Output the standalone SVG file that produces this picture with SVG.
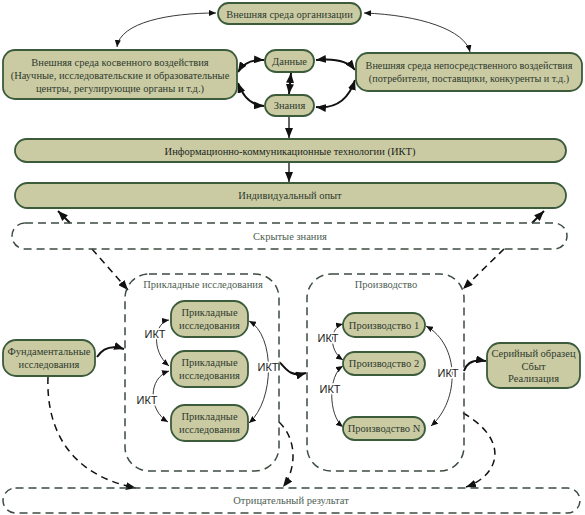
<svg xmlns="http://www.w3.org/2000/svg" width="585" height="515" viewBox="0 0 585 515">
<style>
.n{fill:#cbcba3;stroke:#3b5b3b;stroke-width:1.8}
.d{fill:none;stroke:#3c4c40;stroke-width:1.5;stroke-dasharray:8 5}
.t{font-family:'Liberation Serif','Times New Roman',serif;font-size:10.5px;fill:#2e3a2e;text-anchor:middle}
.tl{font-family:'Liberation Serif','Times New Roman',serif;font-size:10.5px;fill:#4e5e52;text-anchor:middle}
.k{font-family:'Liberation Sans',Arial,sans-serif;font-size:11px;fill:#222;text-anchor:middle;stroke:#fff;stroke-width:3;paint-order:stroke}
.c1{fill:none;stroke:#222;stroke-width:0.9;marker-start:url(#a);marker-end:url(#a)}
.c2{fill:none;stroke:#111;stroke-width:2;marker-start:url(#b);marker-end:url(#b)}
.c3{fill:none;stroke:#111;stroke-width:2;marker-end:url(#b)}
.c4{fill:none;stroke:#111;stroke-width:1.5;stroke-dasharray:7 5;marker-end:url(#b)}
.c5{fill:none;stroke:#111;stroke-width:1.3;marker-end:url(#b)}
</style>
<defs>
<marker id="a" markerUnits="userSpaceOnUse" markerWidth="7" markerHeight="6" refX="7" refY="3" orient="auto-start-reverse"><path d="M0,0 L7,3 L0,6 z" fill="#111"/></marker>
<marker id="b" markerUnits="userSpaceOnUse" markerWidth="10" markerHeight="8" refX="10" refY="4" orient="auto-start-reverse"><path d="M0,0 L10,4 L0,8 z" fill="#111"/></marker>
</defs>

<g id="connectors">
<path class="c1" d="M117,47 C120,22 170,13 216,13"/>
<path class="c1" d="M364,13 C420,15 465,30 470,52"/>
<path class="c2" d="M238,72 Q246,59 264,60"/>
<path class="c2" d="M238,83 Q246,105 264,106"/>
<path class="c2" d="M316,60 Q345,57 355,70"/>
<path class="c2" d="M316,107 Q345,110 355,80"/>
<path class="c2" d="M291,73 L289,94"/>
<path class="c5" d="M289,116 L289,138"/>
<path class="c5" d="M289,162 L289,182"/>
<path class="c3" d="M70,223 L58,211"/>
<path class="c3" d="M532,223 L544,211"/>
<path class="c4" d="M92,249 L128,290"/>
<path class="c4" d="M504,249 L463,289"/>
<path class="c3" d="M97,357 Q106,343 124,349"/>
<path class="c3" d="M279,362 C285,366 288,378 306,373"/>
<path class="c3" d="M464,371 Q468,358 486,361"/>
<path class="c4" d="M48,377 C46,430 70,475 136,488"/>
<path class="c4" d="M279,422 C298,440 296,470 283,487"/>
<path class="c4" d="M463,413 C510,440 500,475 466,487"/>
<path class="c1" d="M169,320 C155,322 150,350 169,366"/>
<path class="c1" d="M169,371 C148,378 148,410 168,422"/>
<path class="c1" d="M249,321 C275,335 275,400 249,423"/>
<path class="c1" d="M343,324 C330,327 328,350 343,360"/>
<path class="c1" d="M343,366 C328,375 328,415 343,427"/>
<path class="c1" d="M426,326 C460,345 460,400 431,426"/>
<text class="k" x="155" y="338">ИКТ</text>
<text class="k" x="147" y="404">ИКТ</text>
<text class="k" x="268" y="371">ИКТ</text>
<text class="k" x="328" y="342">ИКТ</text>
<text class="k" x="330" y="393">ИКТ</text>
<text class="k" x="448" y="377">ИКТ</text>
</g>

<g id="org"><rect class="n" x="218" y="3" width="143" height="21" rx="10.5"/><text class="t" x="289.5" y="17.5">Внешняя среда организации</text></g>
<g id="indirect"><rect class="n" x="3" y="50" width="234" height="49" rx="12"/>
<text class="t" x="120" y="66">Внешняя среда косвенного воздействия</text>
<text class="t" x="120" y="79">(Научные, исследовательские и образовательные</text>
<text class="t" x="120" y="92">центры, регулирующие органы и т.д.)</text></g>
<g id="direct"><rect class="n" x="356" y="53" width="226" height="38" rx="12"/>
<text class="t" x="469" y="69" style="font-size:10.2px">Внешняя среда непосредственного  воздействия</text>
<text class="t" x="469" y="82" style="font-size:10.2px">(потребители, поставщики, конкуренты и т.д.)</text></g>
<g id="data"><rect class="n" x="265" y="50" width="49" height="22" rx="11"/><text class="t" x="289.5" y="64.5">Данные</text></g>
<g id="knowledge"><rect class="n" x="265" y="95" width="49" height="21" rx="10.5"/><text class="t" x="289.5" y="109">Знания</text></g>
<g id="ict"><rect class="n" x="15" y="139" width="551" height="23" rx="11.5"/><text class="t" x="290" y="154.5" style="fill:#1a1f1a">Информационно-коммуникационные технологии (ИКТ)</text></g>
<g id="experience"><rect class="n" x="15" y="183" width="551" height="25" rx="12.5"/><text class="t" x="290" y="199">Индивидуальный опыт</text></g>
<g id="tacit"><rect class="d" x="12" y="223" width="555" height="26" rx="13"/><text class="tl" x="290" y="239.5">Скрытые знания</text></g>

<g id="applied-group"><rect class="d" x="125" y="274" width="154" height="197" rx="24"/><text class="tl" x="203" y="288">Прикладные исследования</text></g>
<g id="production-group"><rect class="d" x="307" y="274" width="157" height="197" rx="24"/><text class="tl" x="386" y="288">Производство</text></g>

<g id="applied1"><rect class="n" x="171" y="301" width="77" height="36" rx="14"/><text class="t" x="209.5" y="316">Прикладные</text><text class="t" x="209.5" y="329">исследования</text></g>
<g id="applied2"><rect class="n" x="171" y="351" width="77" height="36" rx="14"/><text class="t" x="209.5" y="366">Прикладные</text><text class="t" x="209.5" y="379">исследования</text></g>
<g id="applied3"><rect class="n" x="171" y="405" width="77" height="36" rx="14"/><text class="t" x="209.5" y="420">Прикладные</text><text class="t" x="209.5" y="433">исследования</text></g>

<g id="prod1"><rect class="n" x="343" y="313" width="82" height="24" rx="12"/><text class="t" x="384" y="328.5">Производство 1</text></g>
<g id="prod2"><rect class="n" x="343" y="352" width="82" height="23" rx="11.5"/><text class="t" x="384" y="367">Производство 2</text></g>
<g id="prodN"><rect class="n" x="343" y="417" width="82" height="23" rx="11.5"/><text class="t" x="384" y="432">Производство N</text></g>

<g id="fundamental"><rect class="n" x="3" y="340" width="92" height="36" rx="13"/><text class="t" x="49" y="355">Фундаментальные</text><text class="t" x="49" y="368">исследования</text></g>
<g id="serial"><rect class="n" x="487" y="343" width="93" height="45" rx="13"/>
<text class="t" x="533.5" y="357">Серийный образец</text>
<text class="t" x="533.5" y="369.5">Сбыт</text>
<text class="t" x="533.5" y="382">Реализация</text></g>

<g id="negative"><rect class="d" x="3" y="488" width="577" height="25" rx="12.5"/><text class="tl" x="291" y="504">Отрицательный результат</text></g>
</svg>
